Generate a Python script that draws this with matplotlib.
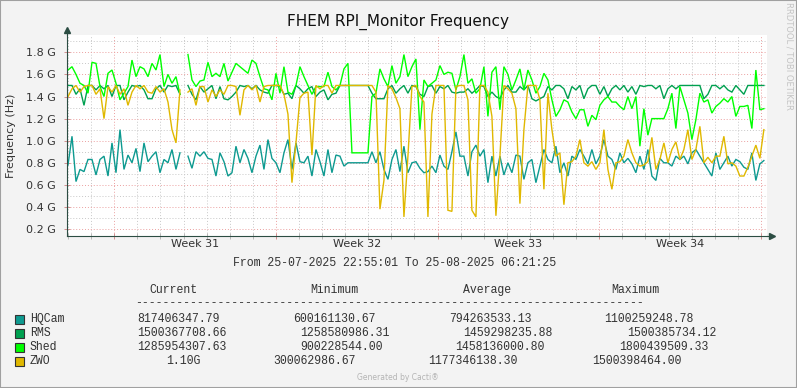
import numpy as np
import matplotlib
matplotlib.use("Agg")
import matplotlib.pyplot as plt
from matplotlib.patches import Rectangle

# ---- data (GHz), one sample every ~4.16 h from 25-07-2025 22:55 ----
nan = np.nan
HQCAM = [0.78, 1.04, 0.63, 0.74, 0.72, 0.83, 0.83, 0.69, 0.83, 0.86, 0.68, 0.98, 0.71, 1.10, 0.74,
         0.87, 0.80, 0.93, 0.72, 0.98, 0.81, 0.86, 0.90, 0.71, 0.83, 0.80, 0.92, 0.74, 0.89, nan,
         0.86, 0.75, 0.90, 0.86, 0.90, 0.84, 0.83, 0.68, 0.89, 0.81, 0.68, 0.71, 0.95, 0.80, 0.92,
         0.84, 0.71, 0.86, 0.96, 0.74, 1.01, 0.84, 0.80, 0.71, 0.89, 1.01, 0.74, 0.98, 0.81,
         0.80, 0.86, 0.68, 0.92, 0.81, 0.68, 0.92, 0.71, 0.87, 0.86, 0.77, 0.80, 0.80, 0.80, 0.80,
         0.80, 0.80, 0.90, 0.80, 0.90, 0.74, 0.65, 0.83, 0.92, 0.72, 0.95, 0.71, 0.80, 0.81,
         0.75, 0.71, 0.72, 0.77, 0.71, 0.87, 0.77, 0.74, 0.90, 1.08, 0.86, 0.86, 0.68, 0.90, 0.96,
         0.86, 0.92, 0.62, 0.86, 0.68, 0.86, 0.69, 0.80, 0.71, 0.87, 0.86, 0.65, 0.80, 0.83, 0.62,
         0.77, 0.92, 0.83, 0.80, 0.95, 0.71, 0.80, 0.68, 0.86, 0.83, 0.92, 0.86, 0.79, 0.92, 0.79,
         0.86, 1.01, 0.86, 0.83, 0.74, 0.89, 0.80, 0.84, 0.79, 0.71, 0.86, 0.74, 0.92, 0.68,
         0.64, 0.84, 0.80, 0.80, 0.77, 0.86, 0.83, 0.86, 0.79, 0.89, 0.92, 0.86, 0.80, 0.74, 0.68,
         0.89, 0.74, 0.80, 0.86, 0.77, 0.83, 0.81, 0.76, 0.74, 0.89, 0.64, 0.79, 0.82]
RMS = [1.50, 1.50, 1.42, 1.47, 1.32, 1.50, 1.50, 1.46, 1.50, 1.47, 1.50, 1.40, 1.50, 1.50, 1.37,
       1.44, 1.50, 1.49, 1.50, 1.46, 1.38, 1.38, 1.47, 1.50, 1.44, 1.50, 1.49, 1.50, 1.42, nan,
       1.50, 1.42, 1.37, 1.49, 1.44, 1.47, 1.50, 1.38, 1.49, 1.38, 1.37, 1.40, 1.44, 1.50, 1.49,
       1.50, 1.47, 1.50, 1.46, 1.44, 1.43, 1.50, 1.50, 1.49, 1.42, 1.43, 1.38, 1.50, 1.47,
       1.43, 1.47, 1.49, 1.40, 1.44, 1.46, 1.37, 1.42, 1.43, 1.50, 1.50, 1.50, 1.50, 1.50, 1.50,
       1.50, 1.50, 1.43, 1.38, 1.38, 1.38, 1.47, 1.50, 1.43, 1.47, 1.50, 1.43, 1.50, 1.49,
       1.42, 1.40, 1.49, 1.50, 1.43, 1.49, 1.47, 1.50, 1.44, 1.43, 1.44, 1.44, 1.47, 1.43, 1.46,
       1.50, 1.49, 1.40, 1.44, 1.40, 1.38, 1.46, 1.50, 1.44, 1.44, 1.49, 1.46, 1.50, 1.38, 1.36,
       1.38, 1.40, 1.49, 1.46, 1.50, 1.50, 1.47, 1.38, 1.49, 1.46, 1.50, 1.38, 1.47, 1.50, 1.50,
       1.42, 1.49, 1.40, 1.47, 1.50, 1.46, 1.50, 1.44, 1.49, 1.42, 1.50, 1.49, 1.50, 1.50,
       1.47, 1.50, 1.38, 1.47, 1.50, 1.47, 1.50, 1.50, 1.50, 1.50, 1.50, 1.50, 1.38, 1.42, 1.50,
       1.50, 1.47, 1.50, 1.46, 1.44, 1.50, 1.46, 1.42, 1.50, 1.50, 1.50, 1.50, 1.50]
SHED = [1.64, 1.67, 1.60, 1.52, 1.50, 1.43, 1.71, 1.70, 1.49, 1.40, 1.61, 1.64, 1.52, 1.37, 1.43,
        1.49, 1.73, 1.58, 1.67, 1.65, 1.58, 1.70, 1.64, 1.78, 1.49, 1.60, 1.52, 1.58, 1.42, nan,
        1.78, 1.55, 1.49, 1.54, 1.55, 1.71, 1.58, 1.61, 1.58, 1.70, 1.54, 1.62, 1.70, 1.67, 1.64,
        1.61, 1.73, 1.70, 1.58, 1.47, 1.46, 1.37, 1.61, 1.43, 1.67, 1.44, 1.42, 1.50, 1.67,
        1.58, 1.50, 1.42, 1.49, 1.49, 1.49, 1.62, 1.49, 1.46, 1.50, 1.65, 1.70, 0.89, 0.89, 0.89,
        0.89, 0.89, 1.40, 1.43, 1.65, 1.56, 1.49, 1.68, 1.52, 1.58, 1.78, 1.58, 1.67, 1.74,
        1.10, 1.55, 1.49, 1.52, 1.55, 1.68, 1.60, 1.62, 1.61, 1.46, 1.58, 1.78, 1.52, 1.56, 1.43,
        1.47, 1.67, 1.22, 1.62, 1.67, 1.28, 1.67, 1.60, 1.46, 1.55, 1.65, 1.46, 1.64, 1.55, 1.43,
        1.49, 1.61, 1.55, 1.37, 1.22, 1.28, 1.37, 1.35, 1.26, 1.20, 1.28, 1.28, 1.13, 1.23, 1.19,
        1.32, 1.37, 1.40, 1.35, 1.35, 1.31, 1.28, 1.40, 1.29, 1.40, 0.95, 1.29, 1.05, 1.20,
        1.20, 1.20, 1.20, 1.29, 1.43, 1.11, 1.49, 1.37, 1.25, 1.01, 1.19, 1.43, 1.35, 1.37, 1.25,
        1.31, 1.34, 1.38, 1.35, 1.40, 1.22, 1.31, 1.31, 1.32, 1.11, 1.64, 1.28, 1.29]
ZWO = [1.40, 1.47, 1.50, 1.44, 1.49, 1.50, 1.50, 1.42, 1.47, 1.20, 1.49, 1.44, 1.50, 1.42, 1.47,
       1.32, 1.44, 1.50, 1.47, 1.50, 1.44, 1.43, 1.49, 1.44, 1.47, 1.35, 1.10, 0.98, 1.46, nan,
       1.44, 1.47, 1.32, 1.49, 1.49, 1.35, 1.46, 1.40, 1.46, 1.42, 1.50, 1.50, 1.49, 1.23, 1.46,
       1.50, 1.46, 1.50, 1.35, 1.49, 1.50, 1.50, 1.50, 1.50, 1.42, 1.24, 0.62, 0.98, 1.39,
       1.43, 1.44, 0.87, 1.50, 1.47, 1.50, 1.50, 1.43, 1.50, 1.50, 1.50, 1.50, 1.50, 1.50, 1.50,
       1.50, 1.50, 1.50, 1.44, 0.38, 0.64, 1.50, 1.47, 1.39, 1.29, 0.31, 0.86, 1.49, 1.50,
       1.40, 1.35, 0.31, 1.24, 1.50, 1.50, 1.50, 0.37, 0.36, 1.49, 1.50, 1.50, 1.37, 0.37, 0.31,
       1.50, 1.50, 1.44, 1.22, 0.32, 0.86, 1.50, 1.47, 1.43, 1.29, 0.43, 1.10, 1.50, 1.50, 1.50,
       1.37, 0.56, 1.43, 1.10, 0.86, 0.89, 0.42, 0.80, 0.81, 0.86, 1.01, 0.80, 0.77, 0.81, 0.74,
       0.80, 1.10, 0.74, 0.56, 0.80, 0.81, 0.86, 1.01, 0.89, 0.80, 0.77, 0.78, 0.81, 1.03,
       0.74, 0.83, 0.98, 0.80, 0.92, 0.99, 0.83, 0.92, 1.10, 0.83, 0.92, 1.13, 0.80, 0.85, 0.80,
       0.86, 0.86, 1.04, 0.79, 0.80, 0.77, 0.68, 0.68, 0.76, 0.86, 0.96, 0.84, 1.10]

NAMES = ['HQCam', 'RMS', 'Shed', 'ZWO']
COLORS = ['#0E9A90', '#00A050', '#00FF00', '#E0B800']
CURRENT = ['817406347.79', '1500367708.66', '1285954307.63', '1.10G']
MINIMUM = ['600161130.67', '1258580986.31', '900228544.00', '300062986.67']
AVERAGE = ['794263533.13', '1459298235.88', '1458136000.80', '1177346138.30']
MAXIMUM = ['1100259248.78', '1500385734.12', '1800439509.33', '1500398464.00']
WEEKS = ['Week 31', 'Week 32', 'Week 33', 'Week 34']

SPAN_DAYS = 30.31          # 25-07 22:55:01 .. 25-08 06:21:25
FIRST_MIDNIGHT = 0.0451    # days from start to 26-07 00:00
FIRST_MONDAY = 2.0451      # 28-07 00:00
SAMPLE_H = 4.156
FIRST_H = 1.04

W, H = 797, 388
def fx(px): return px / W
def fy(py): return 1 - py / H

BG = '#F3F3F3'
AXC = '#2C4D43'
MONO = 'Liberation Mono'
SANS = 'DejaVu Sans'

fig = plt.figure(figsize=(W / 100, H / 100), dpi=100, facecolor=BG)
ax = fig.add_axes([fx(67), fy(236), 700 / W, 201 / H])
ax.set_facecolor('white')

t = (FIRST_H + np.arange(len(HQCAM)) * SAMPLE_H) / 24.0
for vals, c in zip([HQCAM, RMS, SHED, ZWO], COLORS):
    ax.plot(t, vals, color=c, lw=1.0, solid_joinstyle='miter')

ax.set_xlim(0, SPAN_DAYS)
ax.set_ylim(0.137, 1.957)

# grid
days = FIRST_MIDNIGHT + np.arange(0, 31)
days = days[days < SPAN_DAYS]
mondays = FIRST_MONDAY + 7 * np.arange(5)
for d in days:
    if not np.any(np.isclose(d, mondays)):
        ax.axvline(d, color='#C8C8C8', lw=0.7, ls=(0, (1, 2)), zorder=0)
for d in mondays:
    ax.axvline(d, color='#EBA0A0', lw=0.7, ls=(0, (1, 2)), zorder=0)
for v in np.arange(0.3, 1.95, 0.2):
    ax.axhline(v, color='#C8C8C8', lw=0.7, ls=(0, (1, 2)), zorder=0)
for v in np.arange(0.2, 1.85, 0.2):
    ax.axhline(v, color='#EBA0A0', lw=0.7, ls=(0, (1, 2)), zorder=0)

ax.set_yticks(np.arange(0.2, 1.85, 0.2))
ax.set_yticklabels(['%.1f G' % v for v in np.arange(0.2, 1.85, 0.2)],
                   fontsize=8, family=SANS, color='#333333')
ax.set_xticks(mondays)
ax.set_xticklabels([])
ax.set_xticks(days, minor=True)
ax.tick_params(axis='y', direction='inout', length=4, width=0.7, color='#D09090', pad=6)
ax.tick_params(axis='x', which='major', direction='inout', length=4, width=0.7, color='#D09090')
ax.tick_params(axis='x', which='minor', direction='inout', length=4, width=0.7, color='#B8B8B8')
for i, w in enumerate(WEEKS):
    ax.text(mondays[i] + 3.5, -8 / 201, w, transform=ax.get_xaxis_transform(),
            ha='center', va='center', fontsize=8, family=SANS, color='#333333')

for s in ['top', 'right']:
    ax.spines[s].set_visible(False)
for s in ['left', 'bottom']:
    ax.spines[s].set_color(AXC)
    ax.spines[s].set_linewidth(0.8)
# axis arrows
ax.plot([0, 0], [1, 1.025], color=AXC, lw=0.8, transform=ax.transAxes, clip_on=False)
ax.plot([0], [1.025], marker='^', ms=4, color=AXC, transform=ax.transAxes, clip_on=False)
ax.plot([1, 1.007], [0, 0], color=AXC, lw=0.8, transform=ax.transAxes, clip_on=False)
ax.plot([1.007], [0], marker='>', ms=4, color=AXC, transform=ax.transAxes, clip_on=False)

fig.text(fx(398), fy(22), 'FHEM RPI_Monitor Frequency', ha='center', va='center',
         fontsize=11, family=SANS, color='#111111')
fig.text(fx(11), fy(136), 'Frequency (Hz)', rotation=90, ha='center', va='center',
         fontsize=8, family=SANS, color='#333333')
fig.text(fx(789), fy(56), 'RRDTOOL / TOBI OETIKER', rotation=270, ha='center', va='center',
         fontsize=6, family=SANS, color='#C4C4C4')

# legend block
fig.text(fx(233), fy(263), 'From 25-07-2025 22:55:01 To 25-08-2025 06:21:25',
         ha='left', va='center', fontsize=8.3, family=MONO, color='#333333')
for txt, px in zip(['Current', 'Minimum', 'Average', 'Maximum'], [149, 310, 463, 611]):
    fig.text(fx(px), fy(290), txt, ha='left', va='center', fontsize=8.3, family=MONO, color='#333333')
fig.text(fx(135), fy(297), '-' * 74, ha='left', va='top', fontsize=8.3, family=MONO,
         color='#333333')

col_x = [[137, 293, 449, 604],
         [137, 300, 463, 627],
         [137, 300, 455, 619],
         [166, 273, 428, 592]]
row_y = [319, 333, 347, 361]
for i, name in enumerate(NAMES):
    fig.patches.append(Rectangle((fx(15), fy(row_y[i] + 4.5)), 9 / W, 9 / H,
                                 transform=fig.transFigure, facecolor=COLORS[i],
                                 edgecolor='#333333', lw=0.8))
    fig.text(fx(30), fy(row_y[i]), name, ha='left', va='center', fontsize=8.3, family=MONO, color='#333333')
    for j, vals in enumerate([CURRENT, MINIMUM, AVERAGE, MAXIMUM]):
        fig.text(fx(col_x[i][j]), fy(row_y[i]), vals[i], ha='left', va='center',
                 fontsize=8.3, family=MONO, color='#333333')

fig.text(fx(398), fy(378), 'Generated by Cacti\u00ae', ha='center', va='center',
         fontsize=5.5, family=SANS, color='#B4B4B4')

fig.patches.append(Rectangle((0, 0), 1, 1, transform=fig.transFigure, facecolor='none',
                             edgecolor='#A0A0A0', lw=1.5))

fig.savefig('out.png', dpi=100, facecolor=BG)
